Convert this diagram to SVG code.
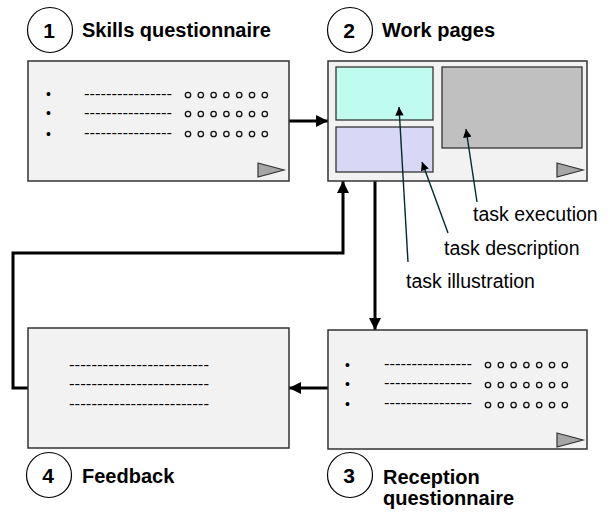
<svg xmlns="http://www.w3.org/2000/svg" width="610" height="512" viewBox="0 0 610 512">
<defs>
<style>
.box{fill:#f2f2f2;stroke:#333;stroke-width:1.5}
.tri{fill:#a6a6a6;stroke:#333;stroke-width:1.2}
.num{fill:#fff;stroke:#000;stroke-width:1.2}
.numt{font-family:"Liberation Sans",Arial,sans-serif;font-weight:bold;font-size:21px;text-anchor:middle;fill:#000}
.title{font-family:"Liberation Sans",Arial,sans-serif;font-weight:bold;font-size:20px;fill:#000}
.lbl{font-family:"Liberation Sans",Arial,sans-serif;font-size:19.5px;fill:#000}
.dash{font-family:"Liberation Sans",Arial,sans-serif;font-size:15px;fill:#000}
.bul{font-family:"Liberation Sans",Arial,sans-serif;font-size:14px;fill:#000}
.rad{fill:none;stroke:#111;stroke-width:1.3}
.conn{fill:none;stroke:#000;stroke-width:3}
.ptr{fill:none;stroke:#002b2b;stroke-width:1.4}
</style>
<marker id="ah" viewBox="0 0 10 10" refX="10" refY="5" markerWidth="4.2" markerHeight="4" orient="auto" markerUnits="strokeWidth">
<path d="M0,0 L10,5 L0,10 z" fill="#000"/>
</marker>
<marker id="sah" viewBox="0 0 10 10" refX="10" refY="5" markerWidth="7" markerHeight="6" orient="auto" markerUnits="strokeWidth">
<path d="M0,0 L10,5 L0,10 z" fill="#000"/>
</marker>
<g id="radios">
<circle class="rad" cx="0" cy="0" r="2.7"/>
<circle class="rad" cx="12.8" cy="0" r="2.7"/>
<circle class="rad" cx="25.6" cy="0" r="2.7"/>
<circle class="rad" cx="38.4" cy="0" r="2.7"/>
<circle class="rad" cx="51.2" cy="0" r="2.7"/>
<circle class="rad" cx="64" cy="0" r="2.7"/>
<circle class="rad" cx="76.8" cy="0" r="2.7"/>
</g>
</defs>
<rect width="610" height="512" fill="#fff"/>

<g id="connectors">
<path class="conn" d="M289,121 H328" marker-end="url(#ah)"/>
<path class="conn" d="M375,181 V330" marker-end="url(#ah)"/>
<path class="conn" d="M328,388 H289" marker-end="url(#ah)"/>
<path class="conn" d="M28,388 H13 V253 H343 V181" marker-end="url(#ah)"/>
</g>

<g id="node1">
<circle class="num" cx="50" cy="30" r="22.5"/>
<text class="numt" x="49" y="38">1</text>
<text class="title" x="82" y="37">Skills questionnaire</text>
<rect class="box" x="28" y="61" width="261" height="120"/>
<text class="bul" x="46" y="99">•</text>
<text class="bul" x="46" y="118">•</text>
<text class="bul" x="46" y="139">•</text>
<text class="dash" x="84" y="99" textLength="88" lengthAdjust="spacingAndGlyphs">----------------</text>
<text class="dash" x="84" y="118" textLength="88" lengthAdjust="spacingAndGlyphs">----------------</text>
<text class="dash" x="84" y="138" textLength="88" lengthAdjust="spacingAndGlyphs">----------------</text>
<use href="#radios" x="188" y="95"/>
<use href="#radios" x="188" y="114"/>
<use href="#radios" x="188" y="134"/>
<polygon class="tri" points="258,163 284,170 258,177"/>
</g>

<g id="node2">
<circle class="num" cx="350" cy="30" r="22.5"/>
<text class="numt" x="349" y="38">2</text>
<text class="title" x="382" y="37">Work pages</text>
<rect class="box" x="328" y="61" width="259" height="120"/>
<rect x="336" y="67" width="97" height="53" fill="#bffbee" stroke="#333" stroke-width="1.3"/>
<rect x="336" y="127" width="97" height="45" fill="#d8d8f6" stroke="#333" stroke-width="1.3"/>
<rect x="442" y="67" width="140" height="81" fill="#c0c0c0" stroke="#333" stroke-width="1.3"/>
<polygon class="tri" points="557,163 583,170 557,177"/>
<path class="ptr" d="M408,262 L399,107" marker-end="url(#sah)"/>
<path class="ptr" d="M448,233 L422,162" marker-end="url(#sah)"/>
<path class="ptr" d="M477,202 L466,129" marker-end="url(#sah)"/>
<text class="lbl" x="473" y="221">task execution</text>
<text class="lbl" x="444" y="255">task description</text>
<text class="lbl" x="406" y="288">task illustration</text>
</g>

<g id="node3">
<rect class="box" x="328" y="330" width="259" height="119"/>
<text class="bul" x="345" y="370">•</text>
<text class="bul" x="345" y="389">•</text>
<text class="bul" x="345" y="409">•</text>
<text class="dash" x="384" y="369" textLength="88" lengthAdjust="spacingAndGlyphs">----------------</text>
<text class="dash" x="384" y="388" textLength="88" lengthAdjust="spacingAndGlyphs">----------------</text>
<text class="dash" x="384" y="408" textLength="88" lengthAdjust="spacingAndGlyphs">----------------</text>
<use href="#radios" x="488" y="365"/>
<use href="#radios" x="488" y="385"/>
<use href="#radios" x="488" y="405"/>
<polygon class="tri" points="557,433 583,440 557,447"/>
<circle class="num" cx="350" cy="475" r="22.5"/>
<text class="numt" x="349" y="483">3</text>
<text class="title" x="383" y="484">Reception</text>
<text class="title" x="383" y="505">questionnaire</text>
</g>

<g id="node4">
<rect class="box" x="28" y="328" width="261" height="120"/>
<text class="dash" x="69" y="370" textLength="140" lengthAdjust="spacingAndGlyphs">-------------------------</text>
<text class="dash" x="69" y="389" textLength="140" lengthAdjust="spacingAndGlyphs">-------------------------</text>
<text class="dash" x="69" y="409" textLength="140" lengthAdjust="spacingAndGlyphs">-------------------------</text>
<circle class="num" cx="49" cy="475" r="22.5"/>
<text class="numt" x="48" y="483">4</text>
<text class="title" x="82" y="483">Feedback</text>
</g>
</svg>
